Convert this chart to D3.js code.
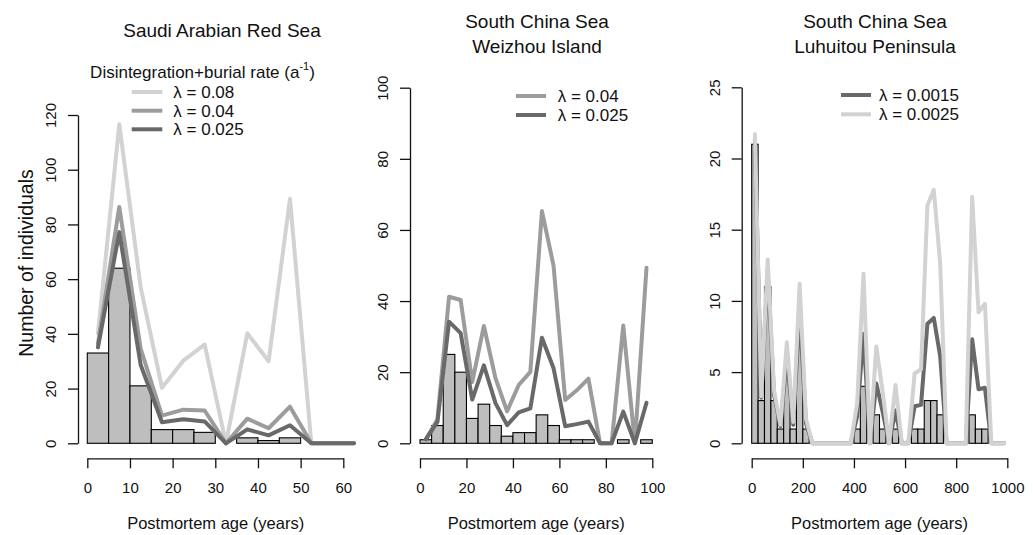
<!DOCTYPE html>
<html><head><meta charset="utf-8">
<script src="https://cdn.jsdelivr.net/npm/d3@7"></script>
<style>body{margin:0;background:#fff}svg text{font-family:"Liberation Sans",Arial,sans-serif;fill:#111}</style>
</head><body><svg id="c" width="1033" height="535"></svg>
<script>
// ---- Panel 1: Saudi Arabian Red Sea (bins of 5 years) ----
const redSeaBinStart = [0,5,10,15,20,25,30,35,40,45,50,55,60];
const redSeaCounts   = [33,64,21,5,5,4,0,2,1,2,0,0,0];
const redSeaL008     = [40.2,116.6,57.1,20.3,30.2,36.1,0,40.2,30.0,89.4,0,0,0];
const redSeaL004     = [36.5,86.4,34.6,10.1,12.3,12.0,0,9.0,5.5,13.4,0,0,0];
const redSeaL0025    = [35.1,77.2,28.7,7.7,8.8,8.0,0,5.1,2.9,6.6,0,0,0];
const redSeaXTicks = [0,10,20,30,40,50,60];
const redSeaYTicks = [0,20,40,60,80,100,120];

// ---- Panel 2: Weizhou Island (bins of 5 years) ----
const weizhouBinStart = [0,5,10,15,20,25,30,35,40,45,50,55,60,65,70,75,80,85,90,95];
const weizhouCounts   = [1,5,25,20,7,11,5,2,3,3,8,5,1,1,1,0,0,1,0,1];
const weizhouL004     = [1.1,6.7,41.2,40.3,17.2,33.0,18.3,9.0,16.4,20.1,65.3,49.9,12.2,14.9,18.2,0,0,33.1,0,49.4];
const weizhouL0025    = [1.1,6.0,34.2,31.0,12.3,21.9,11.3,5.1,8.7,9.8,29.7,21.1,4.8,5.4,6.1,0,0,8.9,0,11.4];
const weizhouXTicks = [0,20,40,60,80,100];
const weizhouYTicks = [0,20,40,60,80,100];

// ---- Panel 3: Luhuitou Peninsula (bins of 25 years) ----
const luhuitouBinStart = [0,25,50,75,100,125,150,175,200,225,250,275,300,325,350,375,400,425,450,475,
                          500,525,550,575,600,625,650,675,700,725,750,775,800,825,850,875,900,925,950,975];
const luhuitouCounts   = [21,3,11,3,1,5,1,7,1,0,0,0,0,0,0,0,1,4,0,2,1,0,1,0,0,1,1,3,3,2,0,0,0,0,2,1,1,0,0,0];
const luhuitouL00015   = [21.4,3.2,12.1,3.4,1.2,6.1,1.3,9.3,1.4,0,0,0,0,0,0,0,1.9,7.7,0,4.2,2.2,0,2.3,0,0,2.6,2.7,8.4,8.8,6.1,0,0,0,0,7.3,3.8,3.9,0,0,0];
const luhuitouL00025   = [21.7,3.3,12.9,3.7,1.3,7.1,1.5,11.2,1.7,0,0,0,0,0,0,0,2.8,11.9,0,6.8,3.6,0,4.1,0,0,4.9,5.2,16.7,17.8,12.6,0,0,0,0,17.3,9.2,9.8,0,0,0];
const luhuitouXTicks = [0,200,400,600,800,1000];
const luhuitouYTicks = [0,5,10,15,20,25];

const LIGHT = "#d2d2d2", MED = "#9c9c9c", DARK = "#696969";

const panels = [
  {title:["Saudi Arabian Red Sea"], titleX:222, titleY:[37],
   bins:redSeaBinStart, width:5, counts:redSeaCounts,
   series:[{v:redSeaL008,c:LIGHT,l:"λ = 0.08"},{v:redSeaL004,c:MED,l:"λ = 0.04"},{v:redSeaL0025,c:DARK,l:"λ = 0.025"}],
   xDom:[0,60], xRange:[87.3,343.3], yDom:[0,120], yRange:[443.3,115], yAxisX:78,
   xTicks:redSeaXTicks, yTicks:redSeaYTicks,
   legend:{x1:131.7,x2:162.3,tx:173.3,ys:[92,110.7,129.3], head:{x:202.5,y:72}}},
  {title:["South China Sea","Weizhou Island"], titleX:537, titleY:[28,53],
   bins:weizhouBinStart, width:5, counts:weizhouCounts,
   series:[{v:weizhouL004,c:MED,l:"λ = 0.04"},{v:weizhouL0025,c:DARK,l:"λ = 0.025"}],
   xDom:[0,100], xRange:[420,652.3], yDom:[0,100], yRange:[443.3,87.7], yAxisX:410,
   xTicks:weizhouXTicks, yTicks:weizhouYTicks,
   legend:{x1:516,x2:546,tx:557.7,ys:[96,115]}},
  {title:["South China Sea","Luhuitou Peninsula"], titleX:875, titleY:[28,53],
   bins:luhuitouBinStart, width:25, counts:luhuitouCounts,
   series:[{v:luhuitouL00015,c:DARK,l:"λ = 0.0015"},{v:luhuitouL00025,c:LIGHT,l:"λ = 0.0025"}],
   xDom:[0,1000], xRange:[751.7,1007.3], yDom:[0,25], yRange:[443.3,87.3], yAxisX:741.7,
   xTicks:luhuitouXTicks, yTicks:luhuitouYTicks,
   legend:{x1:841,x2:871,tx:879,ys:[95,114.3]}}
];

const svg = d3.select("#c");

panels.forEach(p => {
  const x = d3.scaleLinear().domain(p.xDom).range(p.xRange);
  const y = d3.scaleLinear().domain(p.yDom).range(p.yRange);
  const g = svg.append("g");

  // bars
  g.selectAll("rect.bar").data(p.counts).join("rect")
    .attr("x", (d,i) => x(p.bins[i]))
    .attr("width", (d,i) => x(p.bins[i] + p.width) - x(p.bins[i]))
    .attr("y", d => y(d))
    .attr("height", d => y(0) - y(d))
    .attr("fill", "#bebebe").attr("stroke", "#000").attr("stroke-width", 1.1);

  // lines
  const line = d3.line().x((d,i) => x(p.bins[i] + p.width/2)).y(d => y(d));
  p.series.forEach(s => {
    g.append("path").datum(s.v).attr("d", line)
      .attr("fill","none").attr("stroke", s.c).attr("stroke-width", 4)
      .attr("stroke-linejoin","round").attr("stroke-linecap","round");
  });

  // y axis
  const ya = g.append("g").attr("transform", `translate(${p.yAxisX},0)`)
    .call(d3.axisLeft(y).tickValues(p.yTicks).tickSize(10).tickSizeOuter(0).tickFormat(d3.format("d")));
  ya.select(".domain").attr("stroke","#111").attr("stroke-width",1.3);
  ya.selectAll(".tick line").attr("stroke","#111").attr("stroke-width",1.3);
  ya.selectAll(".tick text").attr("transform","rotate(-90)").attr("x",0).attr("y",-27)
    .attr("dy","0.35em").attr("text-anchor","middle").attr("font-size",15).attr("fill","#111");

  // x axis
  const xa = g.append("g").attr("transform","translate(0,458.3)")
    .call(d3.axisBottom(x).tickValues(p.xTicks).tickSize(10).tickSizeOuter(0).tickPadding(14).tickFormat(d3.format("d")));
  xa.select(".domain").attr("stroke","#111").attr("stroke-width",1.3);
  xa.selectAll(".tick line").attr("stroke","#111").attr("stroke-width",1.3);
  xa.selectAll(".tick text").attr("font-size",15).attr("fill","#111");

  // x title
  const cx = (p.xRange[0] + p.xRange[1]) / 2 + (p.yAxisX - p.xRange[0]) / 2 + 5;
  g.append("text").attr("x", cx).attr("y", 529).attr("text-anchor","middle")
    .attr("font-size",16.5).text("Postmortem age (years)");

  // panel title
  p.title.forEach((t,i) => {
    g.append("text").attr("x", p.titleX).attr("y", p.titleY[i]).attr("text-anchor","middle")
      .attr("font-size",19).text(t);
  });

  // legend
  const L = p.legend;
  if (L.head) {
    const ht = g.append("text").attr("x", L.head.x).attr("y", L.head.y).attr("dy","0.35em")
      .attr("text-anchor","middle").attr("font-size",17);
    ht.append("tspan").text("Disintegration+burial rate (a");
    ht.append("tspan").attr("font-size",11).attr("dy","-0.7em").text("-1");
    ht.append("tspan").attr("dy","0.45em").text(")");
  }
  p.series.forEach((s,i) => {
    g.append("line").attr("x1",L.x1).attr("x2",L.x2).attr("y1",L.ys[i]).attr("y2",L.ys[i])
      .attr("stroke", s.c).attr("stroke-width",4);
    g.append("text").attr("x",L.tx).attr("y",L.ys[i]).attr("dy","0.35em")
      .attr("font-size",17).text(s.l);
  });
});

// y axis title
svg.append("text").attr("transform","translate(33,263) rotate(-90)").attr("text-anchor","middle")
  .attr("font-size",19.5).text("Number of individuals");
</script></body></html>
